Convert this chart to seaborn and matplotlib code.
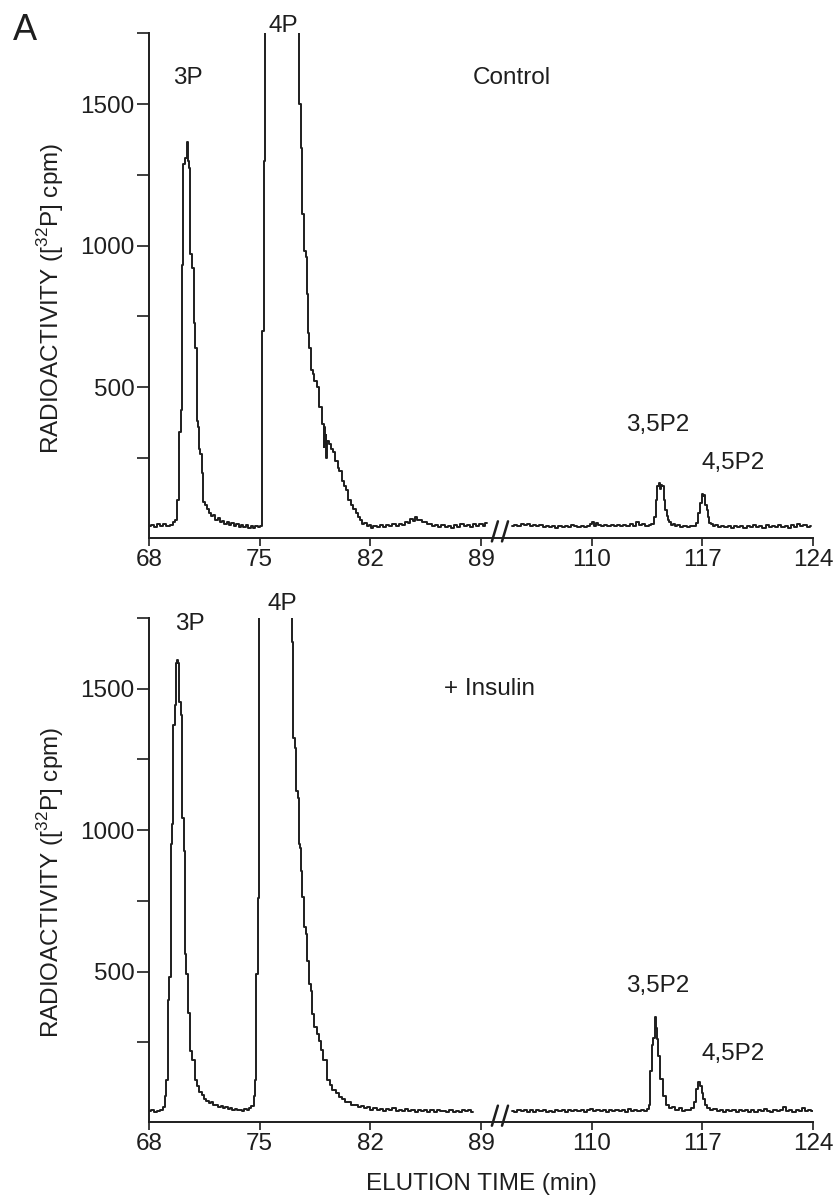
import numpy as np
import pandas as pd
import matplotlib
matplotlib.use('Agg')
import matplotlib.pyplot as plt
import seaborn as sns

# elution profiles (time in min, radioactivity in cpm)
# 4P peaks run off the top of the scale, their apex is a guess

# Control, before the axis break
ctrl_left_t = [68.0, 68.2, 68.4, 68.6, 68.8, 69.0, 69.2, 69.4, 69.6, 69.75, 69.85, 69.96, 70.05, 70.11,
               70.24, 70.3, 70.45, 70.49, 70.55, 70.7, 70.8, 70.85, 70.97, 71.05, 71.1, 71.2, 71.29, 71.38,
               71.48, 71.6, 71.7, 71.86, 72.0, 72.1, 72.28, 72.4, 72.55, 72.7, 72.85, 73.0, 73.12, 73.3,
               73.45, 73.6, 73.75, 73.9, 74.05, 74.2, 74.35, 74.5, 74.65, 74.8, 74.95, 75.1, 75.22, 75.3,
               75.36, 76.4, 77.45, 77.58, 77.66, 77.72, 77.87, 77.95, 78.0, 78.08, 78.2, 78.3, 78.39, 78.5,
               78.71, 78.8, 79.03, 79.06, 79.1, 79.15, 79.2, 79.25, 79.3, 79.45, 79.55, 79.7, 79.87, 80.0,
               80.1, 80.29, 80.4, 80.5, 80.71, 80.85, 81.0, 81.14, 81.3, 81.45, 81.56, 81.7, 81.85, 81.98,
               82.1, 82.3, 82.5, 82.7, 82.9, 83.1, 83.3, 83.5, 83.7, 83.9, 84.1, 84.3, 84.45, 84.6,
               84.75, 84.9, 85.05, 85.2, 85.35, 85.5, 85.65, 85.8, 86.0, 86.2, 86.4, 86.6, 86.8, 87.0,
               87.2, 87.4, 87.6, 87.8, 88.0, 88.2, 88.4, 88.6, 88.8, 89.0, 89.2, 89.35]
ctrl_left_cpm = [8, 12, 5, 15, 8, 18, 10, 14, 22, 30, 100, 340, 420, 930,
                 1290, 1310, 1365, 1300, 1275, 970, 920, 725, 640, 380, 360, 280, 265, 195,
                 95, 85, 70, 55, 45, 50, 32, 38, 25, 28, 18, 22, 12, 20,
                 8, 15, 5, 12, 6, 14, 4, 10, 3, 8, 5, 10, 700, 1300,
                 5000, 5400, 2500, 1500, 1345, 1110, 980, 960, 830, 690, 640, 560, 548, 520,
                 500, 430, 370, 290, 360, 300, 330, 250, 310, 300, 280, 270, 240, 215,
                 205, 170, 150, 135, 100, 85, 70, 55, 40, 30, 15, 20, 8, 12,
                 4, 10, 6, 12, 5, 14, 8, 16, 10, 18, 14, 25, 20, 35,
                 28, 40, 30, 32, 22, 25, 15, 18, 10, 14, 6, 12, 5, 10,
                 4, 12, 6, 15, 8, 14, 5, 18, 8, 15, 10, 20]

# Control, after the axis break
ctrl_right_t = [104.95, 105.2, 105.4, 105.6, 105.8, 106.0, 106.2, 106.4, 106.6, 106.8, 107.0, 107.2,
                107.4, 107.6, 107.8, 108.0, 108.2, 108.4, 108.6, 108.8, 109.0, 109.2, 109.4, 109.6,
                109.8, 110.0, 110.1, 110.2, 110.35, 110.5, 110.7, 110.9, 111.1, 111.3, 111.5, 111.7,
                111.9, 112.1, 112.3, 112.5, 112.7, 112.9, 113.1, 113.3, 113.5, 113.7, 113.85, 114.0,
                114.1, 114.2, 114.28, 114.38, 114.45, 114.5, 114.6, 114.7, 114.8, 114.86, 114.95, 115.06,
                115.2, 115.35, 115.5, 115.7, 115.9, 116.1, 116.3, 116.5, 116.65, 116.8, 116.9, 117.0,
                117.08, 117.15, 117.25, 117.3, 117.4, 117.5, 117.6, 117.7, 117.9, 118.1, 118.3, 118.5,
                118.7, 118.9, 119.1, 119.3, 119.5, 119.7, 119.9, 120.1, 120.3, 120.5, 120.7, 120.9,
                121.1, 121.3, 121.5, 121.7, 121.9, 122.1, 122.3, 122.5, 122.7, 122.9, 123.1, 123.3,
                123.5, 123.7, 123.9]
ctrl_right_cpm = [10, 14, 8, 16, 12, 18, 10, 14, 8, 12, 6, 10,
                  5, 9, 4, 8, 5, 10, 6, 12, 8, 6, 10, 5,
                  8, 15, 25, 10, 20, 12, 8, 14, 10, 12, 8, 14,
                  10, 12, 9, 18, 10, 22, 12, 15, 8, 12, 18, 40,
                  100, 150, 162, 140, 155, 150, 100, 66, 45, 30, 22, 12,
                  16, 8, 12, 6, 10, 5, 8, 10, 20, 56, 90, 122,
                  115, 120, 85, 66, 40, 21, 15, 8, 12, 6, 10, 5,
                  8, 4, 9, 5, 8, 4, 10, 6, 12, 5, 9, 4,
                  14, 6, 10, 5, 12, 6, 9, 4, 12, 6, 15, 8,
                  12, 5, 10]

# + Insulin, before the axis break
ins_left_t = [68.0, 68.2, 68.4, 68.6, 68.8, 68.95, 69.05, 69.15, 69.22, 69.37, 69.43, 69.54, 69.56,
              69.72, 69.74, 69.8, 69.86, 69.9, 69.96, 70.1, 70.13, 70.25, 70.28, 70.45, 70.5, 70.66,
              70.8, 70.97, 71.1, 71.25, 71.4, 71.55, 71.7, 71.85, 72.0, 72.15, 72.3, 72.45, 72.6,
              72.75, 72.9, 73.05, 73.2, 73.35, 73.5, 73.65, 73.8, 73.95, 74.1, 74.25, 74.4, 74.55,
              74.68, 74.77, 74.8, 74.93, 74.98, 76.0, 77.0, 77.05, 77.13, 77.15, 77.3, 77.34, 77.45,
              77.51, 77.63, 77.66, 77.76, 77.87, 77.95, 78.04, 78.18, 78.28, 78.33, 78.5, 78.71, 78.8,
              78.92, 79.13, 79.34, 79.5, 79.7, 79.9, 80.1, 80.3, 80.5, 80.7, 80.9, 81.1, 81.3, 81.5,
              81.7, 81.9, 82.1, 82.3, 82.5, 82.7, 82.9, 83.1, 83.3, 83.5, 83.7, 83.9, 84.1, 84.3,
              84.5, 84.7, 84.9, 85.1, 85.3, 85.5, 85.7, 85.9, 86.1, 86.3, 86.5, 86.7, 86.9, 87.1,
              87.3, 87.5, 87.7, 87.9, 88.1, 88.3, 88.5]
ins_left_cpm = [6, 10, 4, 8, 12, 20, 60, 116, 398, 480, 950, 1020, 1373,
                1443, 1590, 1600, 1590, 1572, 1454, 1408, 1043, 926, 563, 492, 352, 220,
                186, 116, 95, 75, 62, 50, 42, 35, 40, 28, 30, 22, 25,
                18, 20, 14, 18, 12, 15, 9, 12, 8, 14, 10, 18, 25,
                60, 116, 490, 760, 5500, 6000, 2200, 1665, 1607, 1324, 1290, 1137, 1114,
                950, 937, 856, 762, 656, 633, 538, 457, 433, 351, 303, 281, 256,
                221, 186, 116, 100, 80, 70, 55, 50, 38, 40, 28, 30, 22, 25,
                16, 20, 12, 18, 10, 15, 8, 14, 10, 16, 8, 12, 6, 14,
                8, 12, 5, 10, 6, 12, 4, 9, 5, 11, 6, 8, 4, 10,
                5, 8, 4, 10, 6, 9, 5]

# + Insulin, after the axis break
ins_right_t = [104.95, 105.2, 105.4, 105.6, 105.8, 106.0, 106.2, 106.4, 106.6, 106.8, 107.0, 107.2,
               107.4, 107.6, 107.8, 108.0, 108.2, 108.4, 108.6, 108.8, 109.0, 109.2, 109.4, 109.6,
               109.8, 110.0, 110.2, 110.4, 110.6, 110.8, 111.0, 111.2, 111.4, 111.6, 111.8, 112.0,
               112.2, 112.4, 112.6, 112.8, 113.0, 113.2, 113.4, 113.55, 113.65, 113.75, 113.85, 113.95,
               114.02, 114.08, 114.15, 114.25, 114.4, 114.6, 114.8, 115.0, 115.2, 115.4, 115.6, 115.8,
               116.0, 116.2, 116.4, 116.55, 116.7, 116.8, 116.9, 117.0, 117.1, 117.25, 117.4, 117.6,
               117.8, 118.0, 118.2, 118.4, 118.6, 118.8, 119.0, 119.2, 119.4, 119.6, 119.8, 120.0,
               120.2, 120.4, 120.6, 120.8, 121.0, 121.2, 121.4, 121.6, 121.8, 122.0, 122.2, 122.4,
               122.6, 122.8, 123.0, 123.2, 123.4, 123.6, 123.8, 124.0]
ins_right_cpm = [8, 4, 10, 6, 12, 5, 9, 4, 10, 6, 12, 5,
                 8, 4, 10, 6, 9, 5, 11, 7, 12, 6, 10, 5,
                 9, 14, 8, 12, 6, 10, 5, 9, 6, 12, 7, 10,
                 5, 14, 8, 12, 6, 10, 8, 14, 30, 150, 240, 265,
                 340, 300, 260, 200, 120, 60, 30, 18, 22, 12, 16, 8,
                 12, 10, 18, 40, 85, 110, 95, 70, 50, 30, 18, 10,
                 14, 6, 10, 5, 12, 6, 9, 4, 10, 6, 12, 5,
                 9, 4, 11, 6, 14, 8, 5, 10, 6, 12, 20, 8,
                 10, 5, 12, 6, 16, 8, 12, 6]

tick_u = [68, 75, 82, 89, 96, 103, 110]
tick_labels = ['68', '75', '82', '89', '110', '117', '124']
BREAK_SHIFT = 14  # 110-124 is drawn right after 89 (one tick step = 7 min)

sns.set_style('ticks')
plt.rcParams['font.family'] = ['Liberation Sans', 'DejaVu Sans']
plt.rcParams['mathtext.fontset'] = 'custom'
plt.rcParams['mathtext.rm'] = 'Liberation Sans'
FS = 17.5
INK = '#1e1e1e'

fig = plt.figure(figsize=(8.37, 12.03), dpi=100)
ax_top = fig.add_axes([0.178, 0.553, 0.7933, 0.4193])
ax_bot = fig.add_axes([0.178, 0.0673, 0.7933, 0.4190])


def draw_panel(ax, lt, lc, rt, rc):
    left = pd.DataFrame({'u': lt, 'cpm': lc})
    right = pd.DataFrame({'u': np.array(rt) - BREAK_SHIFT, 'cpm': rc})
    for seg in (left, right):
        sns.lineplot(data=seg, x='u', y='cpm', ax=ax, color=INK, linewidth=1.4,
                     sort=False, estimator=None, drawstyle='steps-mid')
    ax.set_xlim(68, 110)
    ax.set_ylim(-32, 1750)
    ax.set_xticks(tick_u)
    ax.set_xticklabels(tick_labels)
    ax.set_yticks([250, 500, 750, 1000, 1250, 1500, 1750])
    ax.set_yticklabels(['', '500', '', '1000', '', '1500', ''])
    ax.tick_params(axis='y', length=8.5, width=1.2, pad=2, labelsize=FS, colors=INK)
    ax.tick_params(axis='x', length=6, width=1.2, pad=2, labelsize=FS, colors=INK)
    sns.despine(ax=ax)
    for s in ('left', 'bottom'):
        ax.spines[s].set_linewidth(1.4)
        ax.spines[s].set_color(INK)
    ax.set_xlabel('')
    ax.set_ylabel('RADIOACTIVITY ([$^{\\mathregular{32}}$P] cpm)', fontsize=FS, color=INK)
    ax.yaxis.set_label_coords(-0.125, 0.475)
    # axis break marks
    for u0 in (89.88, 90.52):
        ax.plot([u0 - 0.19, u0 + 0.19], [-45, 26], color=INK, linewidth=1.8, clip_on=False)


draw_panel(ax_top, ctrl_left_t, ctrl_left_cpm, ctrl_right_t, ctrl_right_cpm)
draw_panel(ax_bot, ins_left_t, ins_left_cpm, ins_right_t, ins_right_cpm)

# peak labels
ax_top.text(70.47, 1592, '3P', fontsize=FS, ha='center', va='center', color=INK)
ax_top.text(76.48, 1775, '4P', fontsize=FS, ha='center', va='center', color=INK, clip_on=False)
ax_top.text(90.96, 1592, 'Control', fontsize=FS, ha='center', va='center', color=INK)
ax_top.text(100.16, 366, '3,5P2', fontsize=FS, ha='center', va='center', color=INK)
ax_top.text(104.94, 231, '4,5P2', fontsize=FS, ha='center', va='center', color=INK)

ax_bot.text(70.6, 1730, '3P', fontsize=FS, ha='center', va='center', color=INK)
ax_bot.text(76.43, 1800, '4P', fontsize=FS, ha='center', va='center', color=INK, clip_on=False)
ax_bot.text(89.57, 1500, '+ Insulin', fontsize=FS, ha='center', va='center', color=INK)
ax_bot.text(100.17, 450, '3,5P2', fontsize=FS, ha='center', va='center', color=INK)
ax_bot.text(104.94, 210, '4,5P2', fontsize=FS, ha='center', va='center', color=INK)

ax_bot.set_xlabel('ELUTION TIME (min)', fontsize=FS, color=INK)
ax_bot.xaxis.set_label_coords(0.5, -0.101)

fig.text(25 / 837, 1 - 30 / 1203, 'A', fontsize=26, ha='center', va='center', color=INK)

fig.savefig('out.png', dpi=100)
